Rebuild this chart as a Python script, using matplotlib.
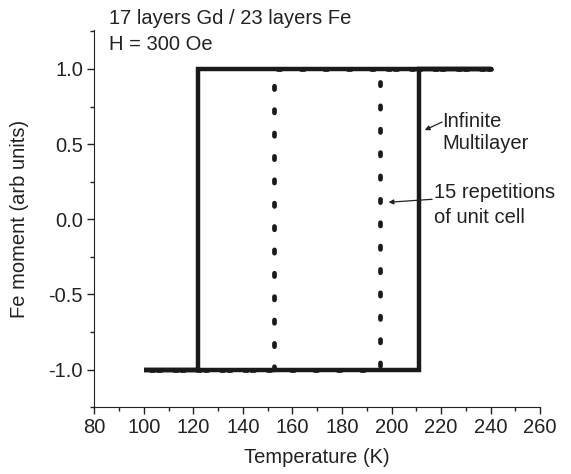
import matplotlib
matplotlib.use("Agg")
import matplotlib.pyplot as plt
from matplotlib.ticker import MultipleLocator, FormatStrFormatter

plt.rcParams["font.family"] = ["Liberation Sans", "DejaVu Sans"]
plt.rcParams["axes.unicode_minus"] = False

# Infinite multilayer loop (solid)
inf_temp = [240, 211, 211, 100, 122, 122, 240]
inf_moment = [1.0, 1.0, -1.0, -1.0, -1.0, 1.0, 1.0]

# 15 repetitions of unit cell (dotted)
rep_temp = [240, 152.5, 152.5, 100, 195.5, 195.5, 240]
rep_moment = [1.0, 1.0, -1.0, -1.0, -1.0, 1.0, 1.0]

x_ticks = [80, 100, 120, 140, 160, 180, 200, 220, 240, 260]
y_ticks = [-1.0, -0.5, 0.0, 0.5, 1.0]

fs = 14.5
ink = "#222222"

fig = plt.figure(figsize=(5.71, 4.74), dpi=100)
ax = fig.add_axes([0.165, 0.141, 0.781, 0.796])

ax.plot(inf_temp, inf_moment, color="#1a1a1a", lw=3.2,
        solid_joinstyle="miter", solid_capstyle="round")
ax.plot(rep_temp, rep_moment, color="#1a1a1a", lw=3.4,
        linestyle=(0, (0.7, 4.25)), dash_capstyle="round")

ax.set_xlim(80, 260)
ax.set_ylim(-1.25, 1.26)
ax.set_xticks(x_ticks)
ax.set_yticks(y_ticks)
ax.xaxis.set_minor_locator(MultipleLocator(10))
ax.yaxis.set_minor_locator(MultipleLocator(0.25))
ax.yaxis.set_major_formatter(FormatStrFormatter("%.1f"))

for s in ["top", "right"]:
    ax.spines[s].set_visible(False)
ax.spines["left"].set_color(ink)
ax.spines["bottom"].set_color(ink)
ax.tick_params(which="major", direction="out", length=5, width=1,
               labelsize=fs, colors=ink, pad=3)
ax.tick_params(which="minor", direction="out", length=3, width=1,
               colors=ink)

ax.set_xlabel("Temperature (K)", fontsize=fs, color=ink, labelpad=8)
ax.set_ylabel("Fe moment (arb units)", fontsize=fs, color=ink, labelpad=14)

fig.text(0.191, 0.962, "17 layers Gd / 23 layers Fe", fontsize=fs,
         color=ink, va="center")
fig.text(0.191, 0.907, "H = 300 Oe", fontsize=fs, color=ink, va="center")

ax.text(220.6, 0.58, "Infinite\nMultilayer", fontsize=fs, color=ink,
        va="center", ha="left", linespacing=1.2)
ax.annotate("", xy=(213.4, 0.593), xytext=(220.4, 0.647),
            arrowprops=dict(arrowstyle="-|>", color=ink, lw=0.9,
                            shrinkA=0, shrinkB=0, mutation_scale=7))

ax.text(217.0, 0.095, "15 repetitions\nof unit cell", fontsize=fs, color=ink,
        va="center", ha="left", linespacing=1.4)
ax.annotate("", xy=(198.8, 0.113), xytext=(216.4, 0.133),
            arrowprops=dict(arrowstyle="-|>", color=ink, lw=0.9,
                            shrinkA=0, shrinkB=0, mutation_scale=7))

fig.savefig("out.png", dpi=100)
